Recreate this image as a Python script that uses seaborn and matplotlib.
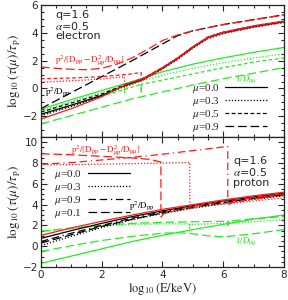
import numpy as np
import pandas as pd
import seaborn as sns
import matplotlib.pyplot as plt
from matplotlib.lines import Line2D
from matplotlib.ticker import MultipleLocator

sns.set_theme(style="ticks")
plt.rcParams['font.family'] = ['DejaVu Sans']
plt.rcParams['mathtext.fontset'] = 'stix'

RED = '#ff1a1a'
GRN = '#22ee22'
BLK = 'black'

ls_solid = '-'
ls_dot = (0, (1, 1.5))
ls_sdash = (0, (3, 2))
ls_ldash = (0, (7, 3))
ls_ddot = (0, (6, 3, 6, 3, 1, 3))

# ---------------- electron panel (top) ----------------
e_x = [0, 1, 2, 3, 4, 5, 6, 7, 8]
eb_x = [0, 1, 2, 2.8, 3.35, 4, 4.5, 5, 5.5, 6, 7, 8]

e_red_mu0 = [-2.2, -1.45, -0.6, 0.3, 0.7, 1.5, 2.2, 3.0, 3.7, 4.05, 4.5, 4.85]
e_blk_mu0 = [-1.85, -1.2, -0.5, 0.25, 0.65, 1.45, 2.15, 2.95, 3.65, 4.0, 4.45, 4.8]
e_blk_mu3 = [-1.95, -1.3, -0.55, 0.2, 0.6, 1.4, 2.1, 2.9, 3.6, 3.95, 4.4, 4.75]
e_blk_mu5 = [-1.7, -1.05, -0.4, 0.3, 0.7, 1.5, 2.2, 3.0, 3.7, 4.05, 4.5, 4.85]

e_blk_mu9_x = [0, 1, 2, 3, 4, 4.5, 5, 6, 7, 8]
e_blk_mu9 = [-1.45, -0.3, 0.85, 2.0, 3.2, 3.8, 4.15, 4.6, 4.95, 5.3]
e_red_mu9_x = [0, 0.5, 1, 1.5, 2, 2.5, 3, 3.5, 4, 4.5, 5, 6, 7, 8]
e_red_mu9 = [1.55, 1.45, 1.38, 1.35, 1.45, 1.75, 2.2, 2.8, 3.45, 3.85, 4.15, 4.6, 4.95, 5.3]

e_red_mu3_x = [0, 1, 2, 2.75, 2.75, 3, 3.35, 4, 4.5, 5, 5.5, 6, 7, 8]
e_red_mu3 = [0.45, 0.55, 0.68, 0.85, 0.05, 0.3, 0.6, 1.4, 2.1, 2.9, 3.6, 3.95, 4.4, 4.75]
e_red_mu5_x = [0, 1, 2, 3, 3.3, 3.3, 3.5, 4, 4.5, 5, 5.5, 6, 7, 8]
e_red_mu5 = [0.7, 0.75, 0.85, 1.05, 1.15, 0.5, 0.8, 1.5, 2.2, 3.0, 3.7, 4.05, 4.5, 4.85]

e_grn_mu0 = [-1.5, -0.8, -0.15, 0.5, 1.2, 1.75, 2.2, 2.6, 2.95]
e_grn_mu3_x = [0, 1, 2, 2.75, 2.75, 2.75, 3, 4, 5, 6, 7, 8]
e_grn_mu3 = [-1.65, -0.95, -0.3, 0.2, -0.35, 0.2, 0.35, 0.95, 1.45, 1.85, 2.2, 2.5]
e_grn_mu5_x = [0, 1, 2, 3, 3.3, 3.3, 3.3, 4, 5, 6, 7, 8]
e_grn_mu5 = [-1.95, -1.25, -0.55, 0.1, 0.3, -0.25, 0.3, 0.6, 1.05, 1.5, 1.9, 2.2]
e_grn_mu9 = [-2.55, -1.95, -1.35, -0.75, -0.25, 0.25, 0.7, 1.1, 1.5]

# ---------------- proton panel (bottom) ----------------
p_x = [0, 1, 2, 3, 4, 5, 6, 7, 8]
p_red_mu0 = [1.05, 1.75, 2.4, 3.0, 3.55, 4.0, 4.45, 4.85, 5.2]
p_blk_mu0 = [0.75, 1.5, 2.2, 2.85, 3.4, 3.9, 4.35, 4.75, 5.1]
p_blk_mu3 = [0.05, 0.95, 1.8, 2.55, 3.15, 3.65, 4.1, 4.5, 4.85]
p_blk_mu9 = [0.45, 1.25, 2.0, 2.7, 3.3, 3.8, 4.25, 4.65, 5.0]
p_blk_mu1 = [0.3, 1.1, 1.9, 2.6, 3.2, 3.75, 4.2, 4.6, 4.95]

p_red_mu3_x = [0, 1, 2, 3, 4, 4.9, 4.9, 5, 5.5, 6, 7, 8]
p_red_mu3 = [7.85, 7.85, 7.9, 7.95, 8.0, 8.05, 3.55, 3.75, 3.9, 4.05, 4.35, 4.65]
p_red_mu1_x = [0, 1, 2, 3, 3.6, 3.95, 3.95, 4.05, 4.5, 5, 6, 7, 8]
p_red_mu1 = [8.9, 8.8, 8.65, 8.5, 8.35, 8.1, 2.8, 3.15, 3.5, 3.85, 4.3, 4.7, 5.05]
p_red_mu9_x = [0, 1, 1.6, 2, 3, 4, 5, 6.15, 6.15, 6.3, 7, 8]
p_red_mu9 = [7.9, 8.05, 8.2, 8.3, 8.55, 8.85, 9.2, 9.6, 3.95, 4.2, 4.55, 4.9]

p_grn_mu0 = [-1.65, -0.95, -0.25, 0.45, 1.05, 1.6, 2.1, 2.6, 3.0]
p_grn_mu1_x = [0, 1, 2, 3, 4, 4.5, 5, 5.5, 6, 7, 8]
p_grn_mu1 = [-0.5, 0.05, 0.55, 0.95, 1.25, 1.3, 1.2, 1.0, 0.9, 1.2, 1.6]
p_grn_mu3_x = [0, 1, 2, 3, 4, 4.9, 4.9, 4.9, 5, 6, 7, 8]
p_grn_mu3 = [1.4, 1.7, 1.95, 2.1, 2.15, 2.15, 1.75, 2.15, 2.1, 2.2, 2.35, 2.55]
p_grn_mu9_x = [0, 1, 2, 3, 4, 5, 6.15, 6.15, 6.15, 7, 8]
p_grn_mu9 = [1.45, 1.75, 2.0, 2.2, 2.3, 2.35, 2.4, 2.0, 2.4, 2.65, 2.85]

mu_labels_e = ['$\\mu$=0.0', '$\\mu$=0.3', '$\\mu$=0.5', '$\\mu$=0.9']
mu_labels_p = ['$\\mu$=0.0', '$\\mu$=0.3', '$\\mu$=0.9', '$\\mu$=0.1']


def curve(ax, x, y, color, ls):
    sns.lineplot(x=x, y=y, ax=ax, color=color, linestyle=ls, lw=0.9,
                 sort=False, estimator=None, legend=False)


fig = plt.figure(figsize=(2.88, 3.0), dpi=100)
ax1 = fig.add_axes([0.142, 0.543, 0.844, 0.44])
ax2 = fig.add_axes([0.142, 0.11, 0.844, 0.433])

# top
curve(ax1, e_x, e_grn_mu0, GRN, ls_solid)
curve(ax1, e_grn_mu3_x, e_grn_mu3, GRN, ls_dot)
curve(ax1, e_grn_mu5_x, e_grn_mu5, GRN, ls_sdash)
curve(ax1, e_x, e_grn_mu9, GRN, ls_ldash)
curve(ax1, eb_x, e_blk_mu0, BLK, ls_solid)
curve(ax1, eb_x, e_blk_mu3, BLK, ls_dot)
curve(ax1, eb_x, e_blk_mu5, BLK, ls_sdash)
curve(ax1, e_blk_mu9_x, e_blk_mu9, BLK, ls_ldash)
curve(ax1, eb_x, e_red_mu0, RED, ls_solid)
curve(ax1, e_red_mu3_x, e_red_mu3, RED, ls_dot)
curve(ax1, e_red_mu5_x, e_red_mu5, RED, ls_sdash)
curve(ax1, e_red_mu9_x, e_red_mu9, RED, ls_ldash)

# bottom
curve(ax2, p_x, p_grn_mu0, GRN, ls_solid)
curve(ax2, p_grn_mu3_x, p_grn_mu3, GRN, ls_dot)
curve(ax2, p_grn_mu9_x, p_grn_mu9, GRN, ls_ldash)
curve(ax2, p_grn_mu1_x, p_grn_mu1, GRN, ls_ldash)
curve(ax2, p_x, p_blk_mu0, BLK, ls_solid)
curve(ax2, p_x, p_blk_mu3, BLK, ls_dot)
curve(ax2, p_x, p_blk_mu9, BLK, ls_ddot)
curve(ax2, p_x, p_blk_mu1, BLK, ls_ldash)
curve(ax2, p_x, p_red_mu0, RED, ls_solid)
curve(ax2, p_red_mu3_x, p_red_mu3, RED, ls_dot)
curve(ax2, p_red_mu9_x, p_red_mu9, RED, ls_ddot)
curve(ax2, p_red_mu1_x, p_red_mu1, RED, ls_ldash)

ylab = r'$\log_{10}(\tau(\mu)/\tau_{\rm p})$'
for ax, lo, hi, ticks in [(ax1, -3.5, 6, [-2, 0, 2, 4, 6]),
                          (ax2, -2, 10.5, [-2, 0, 2, 4, 6, 8, 10])]:
    ax.set_xlim(0, 8)
    ax.set_ylim(lo, hi)
    ax.set_yticks(ticks)
    ax.set_xticks([0, 2, 4, 6, 8])
    ax.xaxis.set_minor_locator(MultipleLocator(0.5))
    ax.yaxis.set_minor_locator(MultipleLocator(0.5))
    ax.tick_params(which='both', direction='in', top=True, right=True,
                   labelsize=7.5, width=0.8, pad=2)
    ax.tick_params(which='major', length=4)
    ax.tick_params(which='minor', length=2)
    for s in ax.spines.values():
        s.set_linewidth(0.9)
    ax.set_ylabel(ylab, fontsize=9.5, labelpad=0)
ax1.set_xticklabels([])
ax2.set_xlabel(r'$\log_{10}\mathrm{(E/keV)}$', fontsize=9, labelpad=1)

# annotations
ax1.text(0.058, 0.925, 'q=1.6', transform=ax1.transAxes, fontsize=8, va='center')
ax1.text(0.058, 0.845, '$\\alpha$=0.5', transform=ax1.transAxes, fontsize=8, va='center')
ax1.text(0.058, 0.765, 'electron', transform=ax1.transAxes, fontsize=8, va='center')
ax2.text(0.79, 0.815, 'q=1.6', transform=ax2.transAxes, fontsize=8, va='center')
ax2.text(0.79, 0.73, '$\\alpha$=0.5', transform=ax2.transAxes, fontsize=8, va='center')
ax2.text(0.79, 0.645, 'proton', transform=ax2.transAxes, fontsize=8, va='center')

lab_red = r'$\rm p^2/[D_{pp}-D^2_{\mu p}/D_{\mu\mu}]$'
lab_blk = r'$\rm p^2/D_{pp}$'
lab_grn = r'$\rm 1/D_{\mu\mu}$'
ax1.text(0.45, 2.0, lab_red, color=RED, fontsize=6.5, va='center')
ax1.text(0.15, -0.25, lab_blk, color=BLK, fontsize=6.5, va='center')
ax1.text(6.4, 0.7, lab_grn, color=GRN, fontsize=6.5, va='center')
ax2.text(1.0, 9.15, lab_red, color=RED, fontsize=6.5, va='center')
ax2.text(2.9, 3.8, lab_blk, color=BLK, fontsize=6.5, va='center')
ax2.text(6.4, 0.45, lab_grn, color=GRN, fontsize=6.5, va='center')

# legends
h_e = [Line2D([], [], color=BLK, lw=0.9, linestyle=s) for s in [ls_solid, ls_dot, ls_sdash, ls_ldash]]
h_p = [Line2D([], [], color=BLK, lw=0.9, linestyle=s) for s in [ls_solid, ls_dot, ls_ddot, ls_ldash]]
leg_kw = dict(frameon=False, markerfirst=False, handlelength=3.8, handletextpad=0.5,
              labelspacing=0.0, borderpad=0, borderaxespad=0,
              prop={'family': 'Liberation Serif', 'size': 8})
ax1.legend(h_e, mu_labels_e, loc='upper left', bbox_to_anchor=(0.62, 0.415), **leg_kw)
ax2.legend(h_p, mu_labels_p, loc='upper left', bbox_to_anchor=(0.055, 0.765), **leg_kw)

fig.savefig('out.png', dpi=100)
